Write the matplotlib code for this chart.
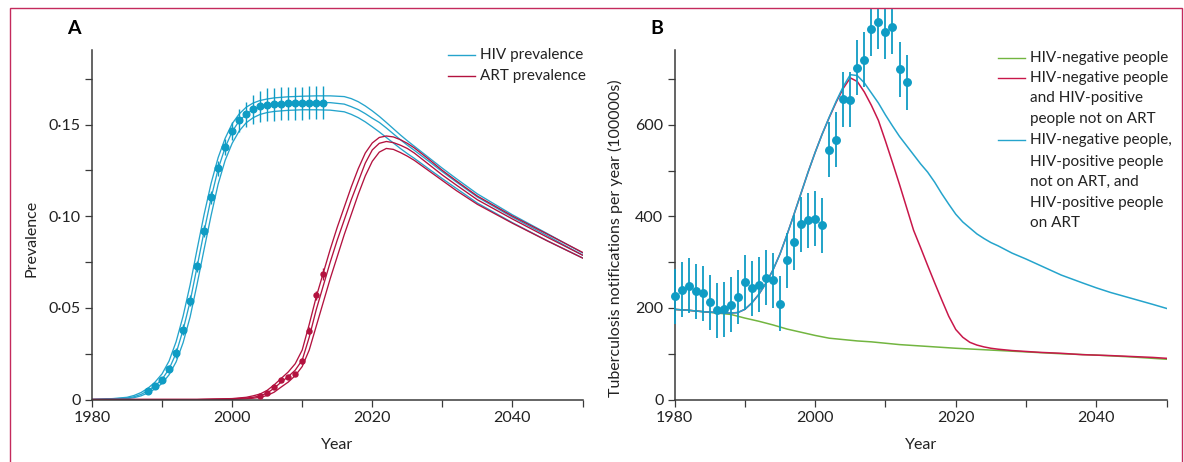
import numpy as np
import matplotlib.pyplot as plt
import matplotlib.patches as mpatches
from matplotlib.ticker import MultipleLocator, FuncFormatter

plt.rcParams['font.family'] = ['Lato', 'DejaVu Sans']

# ---------------- panel A data ----------------
hiv_pt_years = list(range(1988, 2014))
hiv_pt = [0.0045, 0.0072, 0.0109, 0.0169, 0.0254, 0.0382, 0.0538, 0.0727, 0.0919,
          0.1103, 0.1261, 0.1377, 0.1465, 0.1523, 0.1556, 0.1583, 0.1599, 0.1608,
          0.1612, 0.1614, 0.1616, 0.1617, 0.1618, 0.1619, 0.1620, 0.1620]
hiv_err = [0.001, 0.0012, 0.0015, 0.002, 0.0025, 0.003, 0.003, 0.003, 0.0032,
           0.0035, 0.004, 0.0045, 0.005, 0.0065, 0.007, 0.008, 0.0085, 0.009,
           0.009, 0.009, 0.009, 0.009, 0.009, 0.009, 0.009, 0.009]

art_pt_years = list(range(2004, 2014))
art_pt = [0.0019, 0.0035, 0.0068, 0.0106, 0.0124, 0.0139, 0.0212, 0.0375, 0.0568, 0.0684]
art_err = [0.0006, 0.0008, 0.001, 0.0012, 0.0012, 0.0013, 0.0016, 0.002, 0.0026, 0.0033]

hiv_years = [1980, 1983] + list(range(1985, 2007)) + [2008, 2010, 2012, 2014, 2016] + \
    list(range(2017, 2027)) + [2028, 2030, 2032, 2035, 2040, 2045, 2050]
hiv_mid = [0.0, 0.0003, 0.0008, 0.0015, 0.0028, 0.0048, 0.0075, 0.011, 0.0167, 0.0252,
           0.038, 0.0535, 0.0725, 0.0918, 0.110, 0.1258, 0.1375, 0.1462, 0.152, 0.1557,
           0.1583, 0.1598, 0.1607, 0.1612, 0.1617, 0.162, 0.1621, 0.162, 0.1612, 0.1598,
           0.1582, 0.156, 0.1535, 0.1512, 0.1482, 0.145, 0.1418, 0.1388, 0.136, 0.1302,
           0.1243, 0.1187, 0.1105, 0.0995, 0.0893, 0.0788]
hiv_hi = [0.0, 0.0005, 0.0012, 0.0022, 0.0038, 0.0062, 0.0095, 0.014, 0.021, 0.0315,
          0.0455, 0.0625, 0.082, 0.101, 0.118, 0.132, 0.1425, 0.1505, 0.1558, 0.1595,
          0.1618, 0.1632, 0.164, 0.1646, 0.1652, 0.1655, 0.1657, 0.1657, 0.1653, 0.1642,
          0.1625, 0.1602, 0.1575, 0.1545, 0.1512, 0.1478, 0.1444, 0.1412, 0.1382, 0.1322,
          0.1262, 0.1205, 0.1122, 0.1008, 0.0905, 0.080]
hiv_lo = [0.0, 0.0002, 0.0005, 0.001, 0.002, 0.0036, 0.0058, 0.0088, 0.0135, 0.0205,
          0.031, 0.045, 0.063, 0.082, 0.1005, 0.1175, 0.1305, 0.1398, 0.1465, 0.151,
          0.1538, 0.1556, 0.1566, 0.1572, 0.1578, 0.1581, 0.1581, 0.1579, 0.157, 0.1556,
          0.1538, 0.1515, 0.1488, 0.146, 0.143, 0.14, 0.137, 0.1342, 0.1316, 0.126,
          0.1205, 0.1152, 0.1072, 0.0965, 0.0866, 0.0773]

art_years = [1980, 1995, 2000, 2002] + list(range(2003, 2027)) + \
    [2028, 2030, 2032, 2035, 2040, 2045, 2050]
art_mid = [0.0, 0.0, 0.0003, 0.0008, 0.0012, 0.002, 0.0035, 0.0062, 0.0095, 0.0125,
           0.016, 0.0215, 0.034, 0.049, 0.062, 0.075, 0.087, 0.098, 0.109, 0.119,
           0.129, 0.1362, 0.1398, 0.1408, 0.1402, 0.1388, 0.137, 0.1345, 0.1285, 0.1225,
           0.117, 0.109, 0.0985, 0.0885, 0.0788]
art_hi = [0.0, 0.0, 0.0005, 0.0012, 0.002, 0.003, 0.005, 0.008, 0.0115, 0.015,
          0.0195, 0.027, 0.041, 0.056, 0.069, 0.082, 0.094, 0.105, 0.116, 0.126,
          0.1345, 0.14, 0.143, 0.1438, 0.1433, 0.1418, 0.1398, 0.1373, 0.1313, 0.125,
          0.1193, 0.111, 0.1001, 0.0902, 0.0803]
art_lo = [0.0, 0.0, 0.0001, 0.0004, 0.0007, 0.0012, 0.0022, 0.004, 0.0068, 0.0095,
          0.013, 0.018, 0.027, 0.040, 0.053, 0.066, 0.078, 0.090, 0.101, 0.112,
          0.122, 0.130, 0.135, 0.137, 0.1365, 0.1348, 0.1328, 0.1305, 0.125, 0.1195,
          0.114, 0.1065, 0.0962, 0.0865, 0.0772]

# ---------------- panel B data ----------------
tb_years = list(range(1980, 2014))
tb_pts = [226, 240, 249, 237, 232, 213, 195, 197, 207, 224, 256, 243, 251, 266, 261,
          209, 304, 344, 383, 392, 395, 381, 546, 568, 656, 655, 725, 743, 810, 826,
          804, 815, 722, 693]
tb_err = [60] * 34

neg_years = [1980, 1982, 1984, 1986, 1988, 1990, 1992, 1994, 1996, 1998, 2000, 2002,
             2004, 2006, 2008, 2010, 2012, 2015, 2018, 2020, 2025, 2030, 2035, 2040,
             2045, 2050]
neg_tb = [197, 195, 192, 189, 186, 178, 171, 163, 154, 147, 140, 134, 131, 128, 126,
          123, 120, 117, 114, 112, 108, 104, 100, 97, 93, 88]

model_years = [1980, 1982, 1984, 1986] + list(range(1987, 2027)) + \
    [2028, 2030, 2032, 2035, 2038, 2040, 2042, 2045, 2048, 2050]
noart_tb = [197, 195, 192, 190, 189, 189, 190, 197, 211, 230, 254, 283, 318, 360, 405,
            451, 497, 540, 580, 616, 650, 680, 703, 695, 672, 643, 610, 565, 518, 470,
            420, 370, 332, 293, 255, 218, 182, 153, 136, 125, 119, 115, 112, 110,
            107, 105, 103, 101, 98, 97, 96, 94, 92, 90]
all_tb = [197, 195, 192, 190, 189, 189, 190, 197, 211, 230, 254, 283, 318, 360, 405,
          451, 497, 540, 580, 617, 652, 684, 710, 708, 692, 670, 648, 622, 598, 575,
          555, 535, 515, 497, 475, 450, 427, 405, 388, 375, 362, 352, 343, 336,
          320, 307, 293, 272, 255, 244, 234, 221, 208, 199]

BLUE = '#25a4cc'
BLUE_DOT = '#0f9cc4'
CRIMSON = '#b3123f'
RED = '#c8174a'
GREEN = '#72b540'
AXC = '#3a3a3a'

W, H = 1184, 462
fig = plt.figure(figsize=(W / 100, H / 100), dpi=100)


def fx(px):
    return px / W


def fy(py):
    return 1 - py / H


axA = fig.add_axes([fx(92), fy(399.5), fx(582.5) - fx(92), fy(49.5) - fy(399.5)])
axB = fig.add_axes([fx(674.5), fy(399.5), fx(1166.7) - fx(674.5), fy(49.5) - fy(399.5)])

# border frame of the figure panel
frame = mpatches.Rectangle((fx(10), -0.1), fx(1181.5) - fx(10), fy(8) + 0.1,
                           transform=fig.transFigure, fill=False, ec='#c42a5c', lw=1.0)
fig.add_artist(frame)
clip_rect = mpatches.Rectangle((0, 0), 1, fy(8.5), transform=fig.transFigure)

# ---- panel A
for ys in (hiv_hi, hiv_mid, hiv_lo):
    axA.plot(hiv_years, ys, color=BLUE, lw=0.95)
for ys in (art_hi, art_mid, art_lo):
    axA.plot(art_years, ys, color=CRIMSON, lw=0.95)
axA.errorbar(hiv_pt_years, hiv_pt, yerr=hiv_err, fmt='o', color=BLUE_DOT, ms=4.8,
             elinewidth=1.0, capsize=0, zorder=4)
axA.errorbar(art_pt_years, art_pt, yerr=art_err, fmt='o', color=CRIMSON, ms=3.6,
             elinewidth=1.0, capsize=0, zorder=4)

axA.set_xlim(1980, 2050)
axA.set_ylim(0, 0.191)
axA.yaxis.set_major_locator(MultipleLocator(0.05))
axA.yaxis.set_minor_locator(MultipleLocator(0.025))
axA.yaxis.set_major_formatter(FuncFormatter(
    lambda v, p: '0' if abs(v) < 1e-9 else ('%.2f' % v).replace('.', '\u00b7')))
axA.set_ylabel('Prevalence', fontsize=11.5, color='#222')
axA.yaxis.set_label_coords(-0.109, 0.46)

# ---- panel B
axB.plot(neg_years, neg_tb, color=GREEN, lw=1.1)
axB.plot(model_years, noart_tb, color=RED, lw=1.1)
axB.plot(model_years, all_tb, color=BLUE, lw=1.1)
eb = axB.errorbar(tb_years, tb_pts, yerr=tb_err, fmt='o', color=BLUE_DOT, ms=5.4,
                  elinewidth=1.3, capsize=0, zorder=4)
for art in [eb.lines[0]] + list(eb.lines[2]):
    art.set_clip_path(clip_rect)

axB.set_xlim(1980, 2050)
axB.set_ylim(0, 765)
axB.yaxis.set_major_locator(MultipleLocator(200))
axB.yaxis.set_minor_locator(MultipleLocator(100))
axB.set_ylabel('Tuberculosis notifications per year (100000s)', fontsize=11.5, color='#222')
axB.yaxis.set_label_coords(-0.104, 0.46)

for ax in (axA, axB):
    for s in ('top', 'right'):
        ax.spines[s].set_visible(False)
    for s in ('left', 'bottom'):
        ax.spines[s].set_color(AXC)
        ax.spines[s].set_linewidth(1.1)
    ax.xaxis.set_major_locator(MultipleLocator(20))
    ax.xaxis.set_minor_locator(MultipleLocator(10))
    ax.tick_params(which='both', direction='out', length=5, width=0.9, color=AXC,
                   labelsize=11.5, labelcolor='#222', pad=3)
    ax.set_xlabel('Year', fontsize=11.5, color='#222')
    ax.xaxis.set_label_coords(0.5, -0.13)
    ax.xaxis.label.set_va('center')

# panel letters
fig.text(fx(74), fy(28), 'A', fontsize=14, fontweight='bold', ha='center', va='center')
fig.text(fx(657), fy(28), 'B', fontsize=14, fontweight='bold', ha='center', va='center')

# legend A
legA = [('HIV prevalence', BLUE, 55), ('ART prevalence', CRIMSON, 75.7)]
for lab, col, yy in legA:
    fig.add_artist(plt.Line2D([fx(448), fx(475)], [fy(yy), fy(yy)], color=col, lw=1.0,
                              transform=fig.transFigure))
    fig.text(fx(480), fy(yy), lab, fontsize=11, color='#222', va='center', ha='left')

# legend B
legB_lines = ['HIV-negative people', 'HIV-negative people', 'and HIV-positive',
              'people not on ART', 'HIV-negative people,', 'HIV-positive people',
              'not on ART, and', 'HIV-positive people', 'on ART']
legB_rows = [58.3, 77.7, 98.3, 119.3, 140, 161.7, 181.7, 203.3, 222.7]
legB_handles = [(GREEN, 58.3), (RED, 77.7), (BLUE, 140)]
for col, yy in legB_handles:
    fig.add_artist(plt.Line2D([fx(998), fx(1025)], [fy(yy), fy(yy)], color=col, lw=1.0,
                              transform=fig.transFigure))
for txt, yy in zip(legB_lines, legB_rows):
    fig.text(fx(1030), fy(yy), txt, fontsize=11, color='#222', va='center', ha='left')

fig.savefig('out.png', dpi=100)
